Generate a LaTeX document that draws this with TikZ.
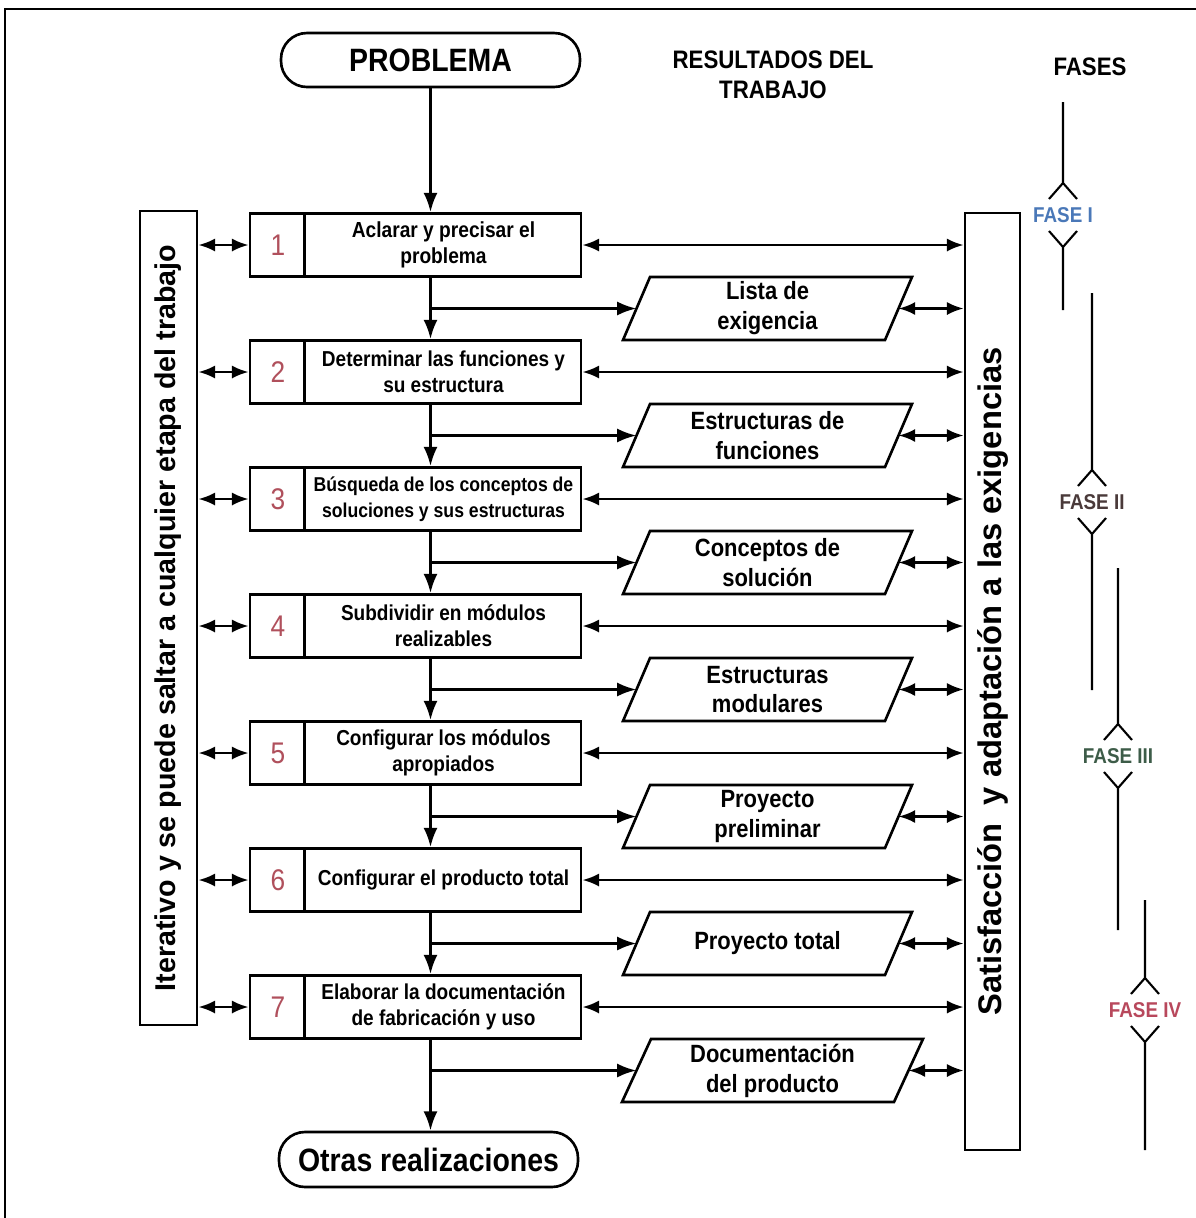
\documentclass[tikz,border=0pt]{standalone}
\usepackage{fontspec}
\setmainfont{Liberation Sans}[FakeStretch=0.88]
\newfontfamily\widefont{Liberation Sans}
\usetikzlibrary{arrows.meta,calc}
\definecolor{numred}{HTML}{B0505C}
\definecolor{faseone}{HTML}{4A78B8}
\definecolor{fasetwo}{HTML}{4A3A3A}
\definecolor{fasethree}{HTML}{3D5C48}
\definecolor{fasefour}{HTML}{B8485C}
\newcommand\pxu{0.02cm}
\begin{document}
\begin{tikzpicture}[x=0.02cm,y=-0.02cm,
  box/.style={draw, line width=1.5pt},
  stepbox/.style={box, minimum width=331*\pxu, minimum height=63*\pxu, inner sep=0pt},
  numtxt/.style={text=numred, font=\fontsize{17}{17}\selectfont},
  steptxt/.style={align=center, inner sep=0pt},
  partxt/.style={align=center, inner sep=0pt, font=\fontsize{14.2}{17}\selectfont\bfseries},
  arr/.style={line width=1.6pt, -{Latex[length=11pt,width=8pt]}},
  dbl/.style={line width=1.6pt, {Latex[length=9.5pt,width=7.5pt]}-{Latex[length=9.5pt,width=7.5pt]}},
  ph/.style={line width=1.2pt},
  fasetxt/.style={font=\fontsize{12.2}{14}\selectfont\bfseries, inner sep=0pt},
  sidetxt/.style={rotate=90, inner sep=0pt},
  term/.style={box, rounded corners=0.52cm, inner sep=0pt, font=\fontsize{18.4}{20}\selectfont\bfseries}
]
\useasboundingbox (0,0) rectangle (1196,1218);
\fill[white] (0,0) rectangle (1196,1218);
% frame
\draw[line width=1.7pt] (5,1218) -- (5,9) -- (1196,9);

% headers
\node[term, minimum width=299*\pxu, minimum height=54*\pxu] (prob) at (430.5,60) {PROBLEMA};
\node[align=center, font=\fontsize{14.4}{17}\selectfont\bfseries] (res) at (773,75) {RESULTADOS DEL\\TRABAJO};
\node[font=\fontsize{14.4}{17}\selectfont\bfseries] (fases) at (1090,67) {FASES};

% side boxes
\node[box, minimum width=57*\pxu, minimum height=814*\pxu, inner sep=0pt] (L) at (168.5,618) {};
\node[sidetxt, font=\widefont\fontsize{16.3}{18}\selectfont\bfseries] (Lt) at (L.center) {Iterativo y se puede saltar a cualquier etapa del trabajo};
\node[box, minimum width=55*\pxu, minimum height=937*\pxu, inner sep=0pt] (R) at (992.5,681.5) {};
\node[sidetxt, font=\widefont\fontsize{18.6}{20}\selectfont\bfseries] (Rt) at (993,681.5) {Satisfacción\ \ y adaptación a las exigencias};

% steps
\foreach \k/\txt/\fs in {
  1/{Aclarar y precisar el\\problema}/12.4,
  2/{Determinar las funciones y\\su estructura}/12.3,
  3/{Búsqueda de los conceptos de\\soluciones y sus estructuras}/11.4,
  4/{Subdividir en módulos\\realizables}/12.3,
  5/{Configurar los módulos\\apropiados}/12.3,
  6/{Configurar el producto total}/12.3,
  7/{Elaborar la documentación\\de fabricación y uso}/12.3}{
  \pgfmathsetmacro\yc{245+127*(\k-1)}
  \node[stepbox] (s\k) at (415.5,\yc) {};
  \draw[box] (s\k.north west) ++(56,0) -- ++(0,63);
  \node[numtxt] (n\k) at (278,\yc) {\k};
  \node[steptxt, font=\fontsize{\fs}{14.7}\selectfont\bfseries] (t\k) at (443.5,\yc) {\txt};
  \draw[dbl] (L.east |- s\k.west) -- (s\k.west);
  \draw[dbl] (s\k.east) -- (s\k.east -| R.west);
}

% results (parallelograms)
\foreach \k/\txt/\cx/\hw/\sl in {
  1/{Lista de\\exigencia}/767.5/144.5/27,
  2/{Estructuras de\\funciones}/767.5/144.5/27,
  3/{Conceptos de\\solución}/767.5/144.5/27,
  4/{Estructuras\\modulares}/767.5/144.5/27,
  5/{Proyecto\\preliminar}/767.5/144.5/27,
  6/{Proyecto total}/767.5/144.5/27,
  7/{Documentación\\del producto}/772.5/150.5/29}{
  \pgfmathsetmacro\yp{308.5+127*(\k-1)}
  \node[partxt] (p\k) at (\cx,\yp) {\txt};
  \draw[box, shift={(p\k.center)}] (-\hw,31.5) -- ({-\hw+\sl},-31.5) -- (\hw,-31.5) -- ({\hw-\sl},31.5) -- cycle;
  \coordinate (pl\k) at ($(p\k.center)+({-\hw+\sl/2},0)$);
  \coordinate (pr\k) at ($(p\k.center)+({\hw-\sl/2},0)$);
  \draw[arr] (pl\k -| prob.south) -- (pl\k);
  \draw[dbl] (pr\k) -- (pr\k -| R.west);
}

% end terminal
\node[term, minimum width=299*\pxu, minimum height=55*\pxu] (otras) at (428.5,1159.5) {Otras realizaciones};

% spine
\draw[arr] (prob.south) -- (prob.south |- s1.north);
\foreach \k in {1,...,6}{
  \pgfmathtruncatemacro\kn{\k+1}
  \draw[arr] (s\k.south -| prob.south) -- (s\kn.north -| prob.south);
}
\draw[arr] (s7.south -| prob.south) -- (prob.south |- otras.north);

% phases
\node[fasetxt, text=faseone] (f1) at (1063,215) {FASE I};
\node[fasetxt, text=fasetwo] (f2) at (1092,502) {FASE II};
\node[fasetxt, text=fasethree] (f3) at (1118,756) {FASE III};
\node[fasetxt, text=fasefour] (f4) at (1145,1010) {FASE IV};
\foreach \f/\top/\bot in {f1/113/95, f2/209/188, f3/188/174, f4/110/140}{
  \draw[ph, shift={(\f.center)}] (0,-\top) -- (0,-32) (-14,-16) -- (0,-32) -- (14,-16)
        (-14,16) -- (0,32) -- (14,16) (0,32) -- (0,\bot);
}
\end{tikzpicture}
\end{document}
